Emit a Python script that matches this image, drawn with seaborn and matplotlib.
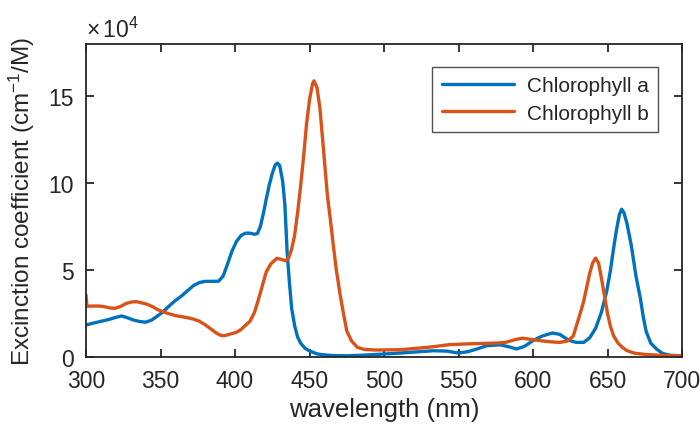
import numpy as np
import pandas as pd
import matplotlib
matplotlib.use("Agg")
import matplotlib.pyplot as plt
import seaborn as sns

# ---------------------------------------------------------------
# Données (coefficient en unités de 1e4 cm^-1/M)
# ---------------------------------------------------------------

chl_a_nm = [300, 305, 310, 315, 320, 324, 328, 332, 336, 340, 344, 348, 352, 356,
            360, 364, 368, 372, 376, 380, 385, 389, 392, 395, 398, 401, 404, 407,
            410, 413, 415, 417, 419, 421, 423, 425, 427, 428.5, 430, 432, 433.5,
            435, 436.5, 438, 440, 442, 444, 447, 450, 455, 460, 466, 475, 485,
            500, 515, 533, 542, 550, 556, 562, 569, 578, 584, 589, 594, 600, 606,
            613, 618, 624, 629, 634, 638, 642, 646, 649.5, 652, 654, 656, 658,
            659.5, 661, 663, 666, 669, 672, 674, 676, 679, 683, 687, 692, 700]
chl_a_eps = [1.84, 1.95, 2.05, 2.15, 2.28, 2.36, 2.25, 2.12, 2.04, 2.0, 2.12, 2.36,
             2.62, 2.95, 3.25, 3.5, 3.8, 4.1, 4.28, 4.35, 4.35, 4.36, 4.65, 5.35,
             6.1, 6.65, 6.98, 7.12, 7.12, 7.06, 7.1, 7.5, 8.25, 9.1, 9.9, 10.55,
             11.05, 11.15, 11.0, 10.1, 8.7, 6.0, 4.3, 2.8, 1.8, 1.15, 0.8, 0.5,
             0.35, 0.18, 0.12, 0.08, 0.07, 0.1, 0.17, 0.25, 0.36, 0.34, 0.23, 0.3,
             0.45, 0.65, 0.7, 0.58, 0.46, 0.6, 0.94, 1.2, 1.38, 1.3, 0.96, 0.84,
             0.84, 1.1, 1.65, 2.6, 3.8, 5.0, 6.2, 7.3, 8.2, 8.5, 8.3, 7.7, 6.4,
             4.7, 3.4, 2.3, 1.45, 0.8, 0.45, 0.2, 0.1, 0.05]

chl_b_nm = [300, 300.6, 305, 309, 313, 316, 319.5, 323, 327, 331, 334, 338, 341,
            345, 348, 352, 356, 360, 364, 368, 372, 376, 380, 384, 387, 390, 392,
            395, 398, 401, 404, 407, 410, 413, 415, 417, 419, 421, 424, 428, 431,
            434, 436, 438, 440, 442, 444, 446, 448, 450, 452, 453, 455, 457, 458.5,
            460, 462, 464, 466, 468, 470.5, 473, 475, 478, 482, 487, 495, 511, 522,
            533, 544, 555, 566, 576, 582, 588, 593, 598, 605, 612, 618, 623, 627,
            629.5, 632, 634, 636, 638, 640, 642, 644, 646, 648, 650, 652, 654, 657,
            660, 663, 668, 675, 685, 700]
chl_b_eps = [3.56, 2.92, 2.93, 2.93, 2.88, 2.82, 2.8, 2.9, 3.08, 3.17, 3.18, 3.1,
             3.03, 2.88, 2.73, 2.59, 2.48, 2.38, 2.32, 2.26, 2.18, 2.06, 1.85, 1.6,
             1.4, 1.26, 1.22, 1.27, 1.35, 1.42, 1.58, 1.82, 2.05, 2.55, 3.1, 3.7,
             4.3, 4.9, 5.35, 5.67, 5.62, 5.53, 5.7, 6.2, 7.0, 8.3, 9.8, 11.5, 13.4,
             14.8, 15.7, 15.88, 15.5, 14.3, 12.8, 11.3, 9.3, 7.9, 6.4, 5.0, 3.6, 2.4,
             1.5, 0.95, 0.56, 0.43, 0.4, 0.42, 0.5, 0.59, 0.71, 0.75, 0.78, 0.8,
             0.85, 1.0, 1.08, 1.02, 0.94, 0.87, 0.84, 0.92, 1.2, 1.9, 2.6, 3.2, 4.0,
             4.8, 5.4, 5.69, 5.4, 4.5, 3.5, 2.5, 1.75, 1.23, 0.8, 0.55, 0.37, 0.22,
             0.15, 0.1, 0.05]

labels = ["Chlorophyll a", "Chlorophyll b"]
colors = ["#0072BD", "#D95319"]
x_ticks = [300, 350, 400, 450, 500, 550, 600, 650, 700]
y_ticks = [0, 5, 10, 15]

# ===========================================================
# Mise en forme
# ===========================================================

sns.set_theme(style="ticks")
plt.rcParams['font.family'] = ['Liberation Sans', 'DejaVu Sans']
plt.rcParams['mathtext.fontset'] = 'custom'
plt.rcParams['mathtext.rm'] = 'Liberation Sans'
plt.rcParams['mathtext.it'] = 'Liberation Sans'

df = pd.concat([
    pd.DataFrame({'wl': chl_a_nm, 'eps': chl_a_eps, 'pigment': labels[0]}),
    pd.DataFrame({'wl': chl_b_nm, 'eps': chl_b_eps, 'pigment': labels[1]}),
], ignore_index=True)

fig = plt.figure(figsize=(7, 4.31), dpi=100)
ax = fig.add_axes([0.1229, 0.1694, 0.8514, 0.7262])

sns.lineplot(data=df, x='wl', y='eps', hue='pigment', palette=colors,
             estimator=None, sort=False, linewidth=2.4, ax=ax)

ax.set_xlim(300, 700)
ax.set_ylim(0, 18)
ax.set_xticks(x_ticks)
ax.set_yticks(y_ticks)
ax.set_xlabel("wavelength (nm)", fontsize=18.5, color='#262626', labelpad=3)
ax.set_ylabel("Excinction coefficient (cm$^{-1}$/M)", fontsize=17.5,
              color='#262626', labelpad=8)

for s in ax.spines.values():
    s.set_visible(True)
    s.set_color('#262626')
    s.set_linewidth(1.3)
ax.tick_params(direction='in', length=6, width=1.3, top=True, right=True,
               labelsize=16.5, colors='#262626', pad=9)

ax.text(0.0, 1.008, r"$\times\,10^{4}$", transform=ax.transAxes,
        fontsize=16.5, color='#262626', ha='left', va='bottom')

handles, _ = ax.get_legend_handles_labels()
leg = ax.legend(handles, labels, loc='upper right', bbox_to_anchor=(0.960, 0.9265),
                borderaxespad=0, fontsize=15, frameon=True, fancybox=False,
                handlelength=3.5, borderpad=0.45, labelspacing=0.4,
                handletextpad=0.6)
leg.get_frame().set_edgecolor('#262626')
leg.get_frame().set_linewidth(1.0)

fig.savefig("out.png", dpi=100)
